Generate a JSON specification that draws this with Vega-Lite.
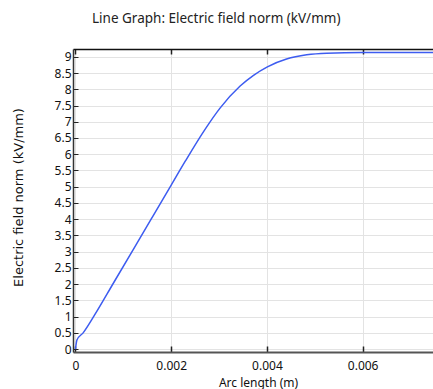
{
  "$schema": "https://vega.github.io/schema/vega-lite/v6.json",
  "width": 360,
  "height": 303,
  "autosize": {"type": "none"},
  "padding": {"left": 73, "top": 49, "right": 0, "bottom": 37},
  "background": "white",
  "title": {
    "text": "Line Graph: Electric field norm (kV/mm)",
    "anchor": "start",
    "frame": "group",
    "dx": 19,
    "offset": 23,
    "font": "Noto Sans",
    "fontSize": 13.5,
    "fontWeight": "normal",
    "color": "#222222"
  },
  "config": {
    "view": {"stroke": null},
    "axis": {
      "labelFont": "Noto Sans",
      "labelFontSize": 12,
      "labelColor": "#111111",
      "titleFont": "Noto Sans",
      "titleFontSize": 12,
      "titleFontWeight": "normal",
      "titleColor": "#111111",
      "gridColor": "#e3e3e3",
      "gridWidth": 1,
      "tickColor": "#222222"
    }
  },
  "data": {
    "values": [
      {"x": 0, "E": 0},
      {"x": 0.00003, "E": 0.28},
      {"x": 0.00016, "E": 0.5},
      {"x": 0.0004, "E": 1.05},
      {"x": 0.0008, "E": 2.05},
      {"x": 0.0012, "E": 3.05},
      {"x": 0.0016, "E": 4.05},
      {"x": 0.002, "E": 5.05},
      {"x": 0.0023, "E": 5.8},
      {"x": 0.0027, "E": 6.75},
      {"x": 0.00302, "E": 7.42},
      {"x": 0.00344, "E": 8.1},
      {"x": 0.00372, "E": 8.43},
      {"x": 0.00401, "E": 8.69},
      {"x": 0.00441, "E": 8.93},
      {"x": 0.00483, "E": 9.06},
      {"x": 0.00525, "E": 9.11},
      {"x": 0.006, "E": 9.13},
      {"x": 0.0075, "E": 9.13}
    ]
  },
  "layer": [
    {
      "mark": {"type": "line", "color": "#3d5cf0", "strokeWidth": 1.5, "clip": true, "interpolate": "monotone"},
      "encoding": {
        "x": {
          "field": "x",
          "type": "quantitative",
          "scale": {"domain": [-0.000052, 0.00747], "nice": false, "zero": false},
          "axis": {
            "title": "Arc length (m)",
            "values": [0, 0.002, 0.004, 0.006],
            "format": "~g",
            "tickSize": -6,
            "labelPadding": 14,
            "titlePadding": 0,
            "titleX": 185,
            "titleY": 30,
            "titleBaseline": "middle",
            "domainColor": "#555555",
            "domainWidth": 2,
            "tickWidth": 1.5
          }
        },
        "y": {
          "field": "E",
          "type": "quantitative",
          "scale": {"domain": [-0.09, 9.24], "nice": false, "zero": false},
          "axis": {
            "title": "Electric field norm (kV/mm)",
            "titleFont": "DejaVu Sans",
            "titleFontSize": 13,
            "values": [0, 0.5, 1, 1.5, 2, 2.5, 3, 3.5, 4, 4.5, 5, 5.5, 6, 6.5, 7, 7.5, 8, 8.5, 9],
            "format": "~g",
            "tickSize": -5,
            "labelPadding": 7,
            "titleAngle": -90,
            "titleX": -55,
            "titleY": 148,
            "titleAlign": "center",
            "titleBaseline": "middle",
            "domainColor": "#333333",
            "domainWidth": 1.5
          }
        }
      }
    },
    {
      "mark": {"type": "rule", "opacity": 0},
      "encoding": {
        "x": {
          "datum": 0,
          "type": "quantitative",
          "axis": {
            "orient": "top",
            "values": [0, 0.002, 0.004, 0.006],
            "labels": false,
            "title": null,
            "grid": false,
            "tickSize": -5,
            "tickWidth": 1.5,
            "domainColor": "#111111",
            "domainWidth": 1.5
          }
        }
      }
    }
  ],
  "resolve": {"axis": {"x": "independent"}}
}
